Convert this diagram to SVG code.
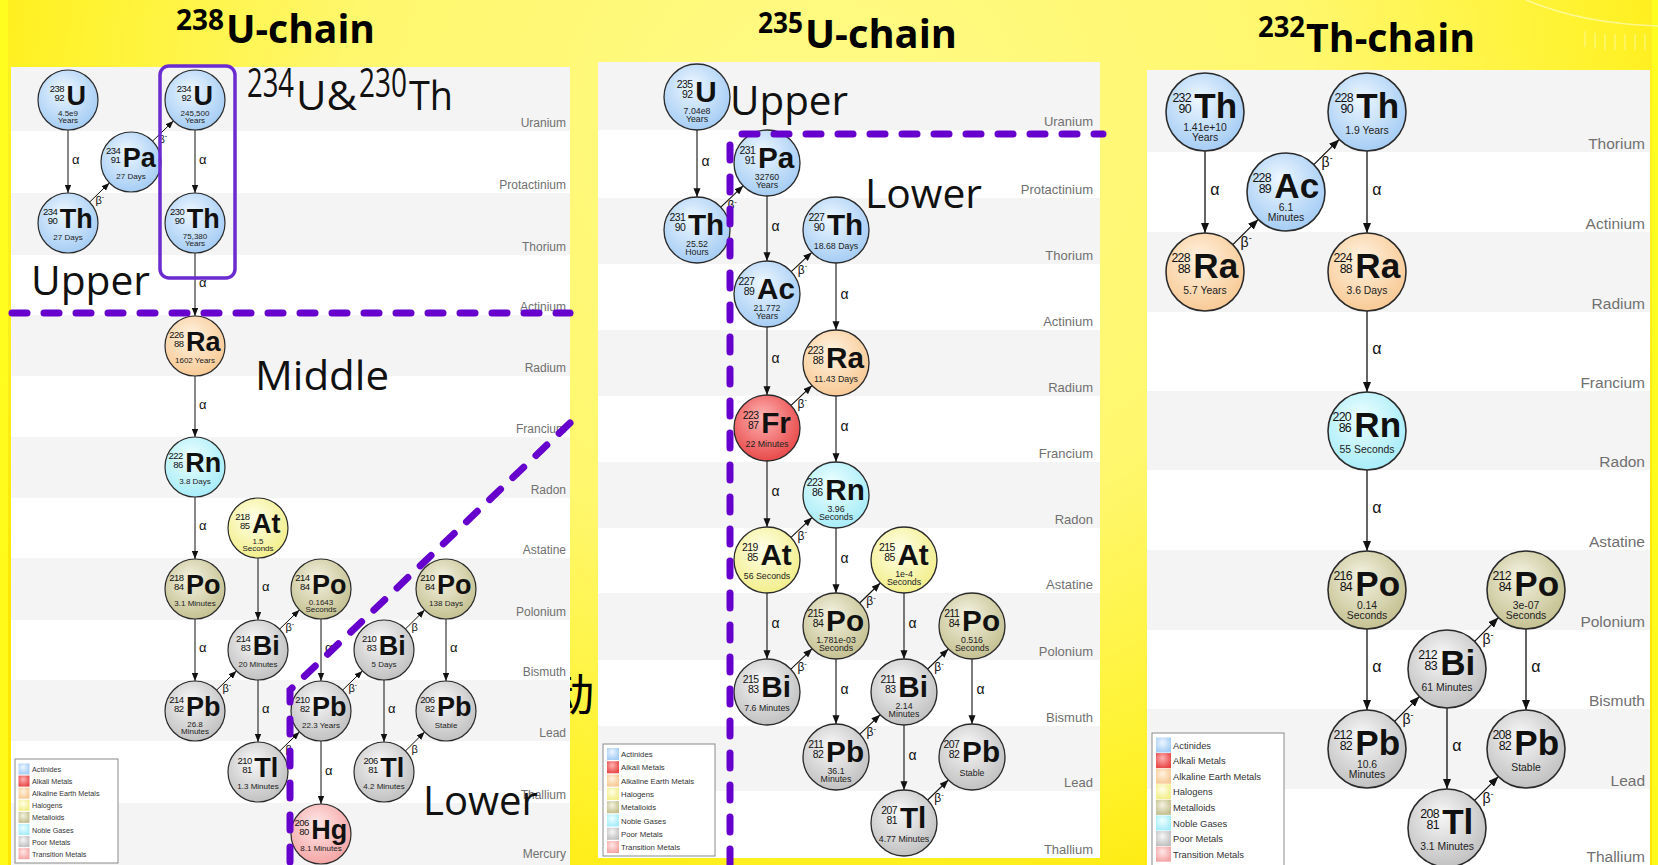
<svg xmlns="http://www.w3.org/2000/svg" width="1658" height="865" viewBox="0 0 1658 865">
<defs>
  <radialGradient id="bgGrad" gradientUnits="userSpaceOnUse" cx="829" cy="120" r="980" gradientTransform="translate(829 120) scale(1 0.9) translate(-829 -120)">
    <stop offset="0" stop-color="#FFFA86"/>
    <stop offset="0.5" stop-color="#FFF76C"/>
    <stop offset="0.8" stop-color="#FFF22A"/>
    <stop offset="1" stop-color="#FFE600"/>
  </radialGradient>
  <radialGradient id="gAct" cx="45%" cy="40%" r="62%" fx="42%" fy="32%"><stop offset="0" stop-color="#EEF7FF"/><stop offset="1" stop-color="#A4CCF4"/></radialGradient>
  <radialGradient id="gAlk" cx="45%" cy="40%" r="62%" fx="42%" fy="32%"><stop offset="0" stop-color="#FFB4B4"/><stop offset="1" stop-color="#E84848"/></radialGradient>
  <radialGradient id="gAE" cx="45%" cy="40%" r="62%" fx="42%" fy="32%"><stop offset="0" stop-color="#FFF3E2"/><stop offset="1" stop-color="#F8C994"/></radialGradient>
  <radialGradient id="gHal" cx="45%" cy="40%" r="62%" fx="42%" fy="32%"><stop offset="0" stop-color="#FFFFEA"/><stop offset="1" stop-color="#F2EE8A"/></radialGradient>
  <radialGradient id="gMet" cx="45%" cy="40%" r="62%" fx="42%" fy="32%"><stop offset="0" stop-color="#F4F3E2"/><stop offset="1" stop-color="#C4C090"/></radialGradient>
  <radialGradient id="gNob" cx="45%" cy="40%" r="62%" fx="42%" fy="32%"><stop offset="0" stop-color="#EEFFFF"/><stop offset="1" stop-color="#A6ECF8"/></radialGradient>
  <radialGradient id="gPoor" cx="45%" cy="40%" r="62%" fx="42%" fy="32%"><stop offset="0" stop-color="#F8F8F8"/><stop offset="1" stop-color="#C0C0C0"/></radialGradient>
  <radialGradient id="gTra" cx="45%" cy="40%" r="62%" fx="42%" fy="32%"><stop offset="0" stop-color="#FFE8E8"/><stop offset="1" stop-color="#F4A4A4"/></radialGradient>
  <marker id="ah" viewBox="0 0 10 8" refX="10" refY="4" markerWidth="8" markerHeight="6.4" orient="auto">
    <path d="M0,0 L10,4 L0,8 z" fill="#111"/>
  </marker>
  <style>
    .panel { fill:#FFFFFF; }
    .band { fill:#F4F4F4; }
    .row { font-family:"Liberation Sans",Arial,sans-serif; fill:#707070; text-anchor:end; }
    .node circle { stroke:#2a2a2a; stroke-width:1.2; }
    .sym { font-family:"Liberation Sans",Arial,sans-serif; font-weight:bold; font-size:27px; fill:#111; }
    .num { font-family:"Liberation Sans",Arial,sans-serif; font-size:9.5px; letter-spacing:-0.5px; text-anchor:end; fill:#111; }
    .hl { font-family:"Liberation Sans",Arial,sans-serif; font-size:8px; text-anchor:middle; fill:#222; }
    .cn { stroke:#111; fill:none; marker-end:url(#ah); }
    .w1 { stroke-width:1; } .w2 { stroke-width:1.1; } .w3 { stroke-width:1.3; }
    .dk { font-family:"Liberation Sans","DejaVu Sans",sans-serif; fill:#111; }
    .k1 { font-size:13px; } .k2 { font-size:14px; } .k3 { font-size:16px; }
    .b1 { font-size:11px; } .b2 { font-size:12px; } .b3 { font-size:14px; }
    .dash { fill:none; stroke:#6600CC; stroke-width:7; stroke-linecap:round; stroke-dasharray:15 17; }
    .big { font-family:"Open Sans","Noto Sans",sans-serif; font-size:40px; fill:#111; }
    .title { font-family:"Open Sans","Noto Sans",sans-serif; font-weight:bold; fill:#000; }
    .lbox { fill:#FFFFFF; stroke:#8a8a8a; stroke-width:1; }
    .lt { font-family:"Liberation Sans",Arial,sans-serif; fill:#333; }
  </style>
</defs>

<!-- slide background -->
<rect width="1658" height="865" fill="url(#bgGrad)"/>
<rect x="0" y="0" width="8" height="865" fill="#FFFF20" opacity="0.8"/>
<rect x="1652" y="0" width="6" height="865" fill="#FFFF20" opacity="0.8"/>
<g id="watermark" fill="none" stroke="#FFFFE6" opacity="0.55">
  <path d="M1526,0 C1565,16 1605,24 1658,26" stroke-width="1.5"/>
  <path d="M1605,34 V50 M1615,34 V50 M1625,34 V50 M1635,34 V50 M1645,34 V50 M1595,33 V49 M1585,31 V47" stroke-width="1"/>
</g>

<!-- partly hidden slide character between the charts -->
<text x="550" y="711" font-family="'Noto Sans CJK SC',sans-serif" font-size="44" fill="#000">动</text>

<!-- titles -->
<g id="titles">
  <text class="title" x="176" y="30" font-size="28" textLength="48" lengthAdjust="spacingAndGlyphs">238</text>
  <text class="title" x="226" y="43" font-size="39" textLength="149" lengthAdjust="spacingAndGlyphs">U-chain</text>
  <text class="title" x="758" y="33" font-size="28" textLength="45" lengthAdjust="spacingAndGlyphs">235</text>
  <text class="title" x="805" y="48" font-size="39" textLength="152" lengthAdjust="spacingAndGlyphs">U-chain</text>
  <text class="title" x="1258" y="37" font-size="28" textLength="47" lengthAdjust="spacingAndGlyphs">232</text>
  <text class="title" x="1306" y="52" font-size="40" textLength="169" lengthAdjust="spacingAndGlyphs">Th-chain</text>
</g>

<!-- chart panels with element rows -->
<g id="panel-238">
  <rect class="panel" x="11" y="67" width="559" height="798"/>
  <rect class="band" x="11" y="67" width="559" height="64"/>
  <rect class="band" x="11" y="193" width="559" height="62"/>
  <rect class="band" x="11" y="315" width="559" height="61"/>
  <rect class="band" x="11" y="437" width="559" height="61"/>
  <rect class="band" x="11" y="558" width="559" height="62"/>
  <rect class="band" x="11" y="680" width="559" height="61"/>
  <rect class="band" x="11" y="803" width="559" height="62"/>
  <g class="row" font-size="12">
    <text x="566" y="127">Uranium</text>
    <text x="566" y="189">Protactinium</text>
    <text x="566" y="251">Thorium</text>
    <text x="566" y="311">Actinium</text>
    <text x="566" y="372">Radium</text>
    <text x="566" y="433">Francium</text>
    <text x="566" y="494">Radon</text>
    <text x="566" y="554">Astatine</text>
    <text x="566" y="616">Polonium</text>
    <text x="566" y="676">Bismuth</text>
    <text x="566" y="737">Lead</text>
    <text x="566" y="799">Thallium</text>
    <text x="566" y="858">Mercury</text>
  </g>
</g>
<g id="panel-235">
  <rect class="panel" x="598" y="62" width="502" height="796"/>
  <rect class="band" x="598" y="62" width="502" height="68"/>
  <rect class="band" x="598" y="198" width="502" height="66"/>
  <rect class="band" x="598" y="330" width="502" height="66"/>
  <rect class="band" x="598" y="462" width="502" height="66"/>
  <rect class="band" x="598" y="593" width="502" height="67"/>
  <rect class="band" x="598" y="726" width="502" height="65"/>
  <g class="row" font-size="13">
    <text x="1093" y="126">Uranium</text>
    <text x="1093" y="194">Protactinium</text>
    <text x="1093" y="260">Thorium</text>
    <text x="1093" y="326">Actinium</text>
    <text x="1093" y="392">Radium</text>
    <text x="1093" y="458">Francium</text>
    <text x="1093" y="524">Radon</text>
    <text x="1093" y="589">Astatine</text>
    <text x="1093" y="656">Polonium</text>
    <text x="1093" y="722">Bismuth</text>
    <text x="1093" y="787">Lead</text>
    <text x="1093" y="854">Thallium</text>
  </g>
</g>
<g id="panel-232">
  <rect class="panel" x="1147" y="70" width="503" height="795"/>
  <rect class="band" x="1147" y="70" width="503" height="82"/>
  <rect class="band" x="1147" y="232" width="503" height="80"/>
  <rect class="band" x="1147" y="391" width="503" height="79"/>
  <rect class="band" x="1147" y="550" width="503" height="80"/>
  <rect class="band" x="1147" y="709" width="503" height="80"/>
  <g class="row" font-size="15.5">
    <text x="1645" y="149">Thorium</text>
    <text x="1645" y="229">Actinium</text>
    <text x="1645" y="309">Radium</text>
    <text x="1645" y="388">Francium</text>
    <text x="1645" y="467">Radon</text>
    <text x="1645" y="547">Astatine</text>
    <text x="1645" y="627">Polonium</text>
    <text x="1645" y="706">Bismuth</text>
    <text x="1645" y="786">Lead</text>
    <text x="1645" y="862">Thallium</text>
  </g>
</g>

<!-- legends -->
<g id="legend-238">
  <rect class="lbox" x="15" y="759" width="103" height="104"/>
  <g>
    <rect x="18.5" y="763.5" width="11" height="11" fill="url(#gAct)"/>
    <rect x="18.5" y="775.6" width="11" height="11" fill="url(#gAlk)"/>
    <rect x="18.5" y="787.7" width="11" height="11" fill="url(#gAE)"/>
    <rect x="18.5" y="799.8" width="11" height="11" fill="url(#gHal)"/>
    <rect x="18.5" y="811.9" width="11" height="11" fill="url(#gMet)"/>
    <rect x="18.5" y="824" width="11" height="11" fill="url(#gNob)"/>
    <rect x="18.5" y="836.1" width="11" height="11" fill="url(#gPoor)"/>
    <rect x="18.5" y="848.2" width="11" height="11" fill="url(#gTra)"/>
  </g>
  <g class="lt" font-size="7.2">
    <text x="32" y="772">Actinides</text>
    <text x="32" y="784.1">Alkali Metals</text>
    <text x="32" y="796.2">Alkaline Earth Metals</text>
    <text x="32" y="808.3">Halogens</text>
    <text x="32" y="820.4">Metalloids</text>
    <text x="32" y="832.5">Noble Gases</text>
    <text x="32" y="844.6">Poor Metals</text>
    <text x="32" y="856.7">Transition Metals</text>
  </g>
</g>
<g id="legend-235">
  <rect class="lbox" x="603" y="744" width="112" height="112"/>
  <g>
    <rect x="607" y="748" width="12" height="12" fill="url(#gAct)"/>
    <rect x="607" y="761.3" width="12" height="12" fill="url(#gAlk)"/>
    <rect x="607" y="774.6" width="12" height="12" fill="url(#gAE)"/>
    <rect x="607" y="787.9" width="12" height="12" fill="url(#gHal)"/>
    <rect x="607" y="801.2" width="12" height="12" fill="url(#gMet)"/>
    <rect x="607" y="814.5" width="12" height="12" fill="url(#gNob)"/>
    <rect x="607" y="827.8" width="12" height="12" fill="url(#gPoor)"/>
    <rect x="607" y="841.1" width="12" height="12" fill="url(#gTra)"/>
  </g>
  <g class="lt" font-size="7.8">
    <text x="621" y="757">Actinides</text>
    <text x="621" y="770.3">Alkali Metals</text>
    <text x="621" y="783.6">Alkaline Earth Metals</text>
    <text x="621" y="796.9">Halogens</text>
    <text x="621" y="810.2">Metalloids</text>
    <text x="621" y="823.5">Noble Gases</text>
    <text x="621" y="836.8">Poor Metals</text>
    <text x="621" y="850.1">Transition Metals</text>
  </g>
</g>
<g id="legend-232">
  <rect class="lbox" x="1152" y="733" width="132" height="140"/>
  <g>
    <rect x="1156" y="737.5" width="15" height="15" fill="url(#gAct)"/>
    <rect x="1156" y="753.1" width="15" height="15" fill="url(#gAlk)"/>
    <rect x="1156" y="768.7" width="15" height="15" fill="url(#gAE)"/>
    <rect x="1156" y="784.3" width="15" height="15" fill="url(#gHal)"/>
    <rect x="1156" y="799.9" width="15" height="15" fill="url(#gMet)"/>
    <rect x="1156" y="815.5" width="15" height="15" fill="url(#gNob)"/>
    <rect x="1156" y="831.1" width="15" height="15" fill="url(#gPoor)"/>
    <rect x="1156" y="846.7" width="15" height="15" fill="url(#gTra)"/>
  </g>
  <g class="lt" font-size="9.4">
    <text x="1173" y="748.5">Actinides</text>
    <text x="1173" y="764.1">Alkali Metals</text>
    <text x="1173" y="779.7">Alkaline Earth Metals</text>
    <text x="1173" y="795.3">Halogens</text>
    <text x="1173" y="810.9">Metalloids</text>
    <text x="1173" y="826.5">Noble Gases</text>
    <text x="1173" y="842.1">Poor Metals</text>
    <text x="1173" y="857.7">Transition Metals</text>
  </g>
</g>

<!-- decay arrows and their labels -->
<g id="connectors">
  <g class="cn w1">
    <line x1="68" y1="130" x2="68" y2="193"/>
    <line x1="195" y1="130" x2="195" y2="193"/>
    <line x1="195" y1="253" x2="195" y2="316"/>
    <line x1="195" y1="376" x2="195" y2="437"/>
    <line x1="195" y1="497" x2="195" y2="559"/>
    <line x1="258" y1="558" x2="258" y2="620"/>
    <line x1="195" y1="619" x2="195" y2="681"/>
    <line x1="321" y1="619" x2="321" y2="681"/>
    <line x1="446" y1="619" x2="446" y2="681"/>
    <line x1="258" y1="680" x2="258" y2="742"/>
    <line x1="384" y1="680" x2="384" y2="742"/>
    <line x1="321" y1="741" x2="321" y2="804"/>
    <line x1="89.6" y1="202.1" x2="109.4" y2="182.9"/>
    <line x1="152.6" y1="141.1" x2="173.4" y2="120.9"/>
    <line x1="216.6" y1="690.1" x2="236.4" y2="670.9"/>
    <line x1="279.6" y1="629.1" x2="299.4" y2="609.9"/>
    <line x1="342.6" y1="690.1" x2="362.4" y2="670.9"/>
    <line x1="405.4" y1="629" x2="424.6" y2="610"/>
    <line x1="279.6" y1="751.1" x2="299.4" y2="731.9"/>
    <line x1="405.4" y1="751" x2="424.6" y2="732"/>
  </g>
  <g class="dk k1">
    <text x="72" y="163.5">α</text>
    <text x="199" y="163.5">α</text>
    <text x="199" y="286.5">α</text>
    <text x="199" y="408.5">α</text>
    <text x="199" y="530">α</text>
    <text x="262" y="591">α</text>
    <text x="199" y="652">α</text>
    <text x="325" y="652">α</text>
    <text x="450" y="652">α</text>
    <text x="262" y="713">α</text>
    <text x="388" y="713">α</text>
    <text x="325" y="774.5">α</text>
  </g>
  <g class="dk b1">
    <text x="95.5" y="204">β<tspan font-size="7" dy="-5">-</tspan></text>
    <text x="158.5" y="143">β<tspan font-size="7" dy="-5">-</tspan></text>
    <text x="222.5" y="692">β<tspan font-size="7" dy="-5">-</tspan></text>
    <text x="285.5" y="631">β<tspan font-size="7" dy="-5">-</tspan></text>
    <text x="348.5" y="692">β<tspan font-size="7" dy="-5">-</tspan></text>
    <text x="411.4" y="631">β</text>
    <text x="285.5" y="753">β</text>
    <text x="411.4" y="753">β</text>
  </g>

  <g class="cn w2">
    <line x1="697" y1="130" x2="697" y2="197"/>
    <line x1="767" y1="196" x2="767" y2="261"/>
    <line x1="836" y1="263" x2="836" y2="330"/>
    <line x1="767" y1="327" x2="767" y2="395"/>
    <line x1="836" y1="396" x2="836" y2="462"/>
    <line x1="767" y1="461" x2="767" y2="527"/>
    <line x1="836" y1="528" x2="836" y2="593"/>
    <line x1="767" y1="593" x2="767" y2="659"/>
    <line x1="904" y1="593" x2="904" y2="659"/>
    <line x1="836" y1="659" x2="836" y2="724"/>
    <line x1="972" y1="659" x2="972" y2="724"/>
    <line x1="904" y1="725" x2="904" y2="790"/>
    <line x1="720.8" y1="207.2" x2="743.2" y2="185.8"/>
    <line x1="791.2" y1="271.6" x2="811.8" y2="252.4"/>
    <line x1="791" y1="405.4" x2="812" y2="385.6"/>
    <line x1="791" y1="537.4" x2="812" y2="517.6"/>
    <line x1="790.9" y1="669.2" x2="812.1" y2="648.8"/>
    <line x1="859.7" y1="603" x2="880.3" y2="583"/>
    <line x1="859.9" y1="734.2" x2="880.1" y2="714.8"/>
    <line x1="927.7" y1="669" x2="948.3" y2="649"/>
    <line x1="927.7" y1="800" x2="948.3" y2="780"/>
  </g>
  <g class="dk k2">
    <text x="701.4" y="165.7">α</text>
    <text x="771.4" y="230.7">α</text>
    <text x="840.4" y="298.7">α</text>
    <text x="771.4" y="363.2">α</text>
    <text x="840.4" y="431.2">α</text>
    <text x="771.4" y="496.2">α</text>
    <text x="840.4" y="562.7">α</text>
    <text x="771.4" y="628.2">α</text>
    <text x="908.4" y="628.2">α</text>
    <text x="840.4" y="693.7">α</text>
    <text x="976.4" y="693.7">α</text>
    <text x="908.4" y="759.7">α</text>
  </g>
  <g class="dk b2">
    <text x="727.4" y="209.4">β<tspan font-size="7.5" dy="-5.5">-</tspan></text>
    <text x="797.8" y="273.8">β<tspan font-size="7.5" dy="-5.5">-</tspan></text>
    <text x="797.6" y="407.6">β<tspan font-size="7.5" dy="-5.5">-</tspan></text>
    <text x="797.6" y="539.6">β<tspan font-size="7.5" dy="-5.5">-</tspan></text>
    <text x="797.4" y="671.4">β<tspan font-size="7.5" dy="-5.5">-</tspan></text>
    <text x="866.3" y="605.2">β<tspan font-size="7.5" dy="-5.5">-</tspan></text>
    <text x="866.5" y="736.4">β<tspan font-size="7.5" dy="-5.5">-</tspan></text>
    <text x="934.3" y="671.2">β<tspan font-size="7.5" dy="-5.5">-</tspan></text>
    <text x="934.3" y="802.2">β<tspan font-size="7.5" dy="-5.5">-</tspan></text>
  </g>

  <g class="cn w3">
    <line x1="1205" y1="151" x2="1205" y2="233"/>
    <line x1="1367" y1="151" x2="1367" y2="233"/>
    <line x1="1367" y1="311" x2="1367" y2="392"/>
    <line x1="1367" y1="470" x2="1367" y2="551"/>
    <line x1="1367" y1="629" x2="1367" y2="710"/>
    <line x1="1526" y1="629" x2="1526" y2="710"/>
    <line x1="1447" y1="708" x2="1447" y2="789"/>
    <line x1="1232.8" y1="244.6" x2="1258.2" y2="219.4"/>
    <line x1="1313.8" y1="164.6" x2="1339.2" y2="139.4"/>
    <line x1="1394.6" y1="721.4" x2="1419.4" y2="696.6"/>
    <line x1="1474.6" y1="641.4" x2="1498.4" y2="617.6"/>
    <line x1="1474.6" y1="800.4" x2="1498.4" y2="776.6"/>
  </g>
  <g class="dk k3">
    <text x="1210.2" y="194.6">α</text>
    <text x="1372.2" y="194.6">α</text>
    <text x="1372.2" y="354.1">α</text>
    <text x="1372.2" y="513.1">α</text>
    <text x="1372.2" y="672.1">α</text>
    <text x="1531.2" y="672.1">α</text>
    <text x="1452.2" y="751.1">α</text>
  </g>
  <g class="dk b3">
    <text x="1240.6" y="247.2">β<tspan font-size="9" dy="-6.5">-</tspan></text>
    <text x="1321.6" y="167.2">β<tspan font-size="9" dy="-6.5">-</tspan></text>
    <text x="1402.4" y="724">β<tspan font-size="9" dy="-6.5">-</tspan></text>
    <text x="1482.4" y="644">β<tspan font-size="9" dy="-6.5">-</tspan></text>
    <text x="1482.4" y="803">β<tspan font-size="9" dy="-6.5">-</tspan></text>
  </g>
</g>

<!-- 238U chain nuclides -->
<g id="n-u238" class="node" transform="translate(68,100)"><circle r="30" fill="url(#gAct)"/><text class="num" x="-4" y="-8">238</text><text class="num" x="-4" y="1">92</text><text class="sym" x="-1.5" y="4.5">U</text><text class="hl" y="15.5">4.5e9</text><text class="hl" y="23">Years</text></g>
<g id="n-pa234" class="node" transform="translate(131,162)"><circle r="30" fill="url(#gAct)"/><text class="num" x="-10.75" y="-8">234</text><text class="num" x="-10.75" y="1">91</text><text class="sym" x="-8.25" y="4.5">Pa</text><text class="hl" y="17">27 Days</text></g>
<g id="n-th234" class="node" transform="translate(68,223)"><circle r="30" fill="url(#gAct)"/><text class="num" x="-10.75" y="-8">234</text><text class="num" x="-10.75" y="1">90</text><text class="sym" x="-8.25" y="4.5">Th</text><text class="hl" y="17">27 Days</text></g>
<g id="n-u234" class="node" transform="translate(195,100)"><circle r="30" fill="url(#gAct)"/><text class="num" x="-4" y="-8">234</text><text class="num" x="-4" y="1">92</text><text class="sym" x="-1.5" y="4.5">U</text><text class="hl" y="15.5">245,500</text><text class="hl" y="23">Years</text></g>
<g id="n-th230" class="node" transform="translate(195,223)"><circle r="30" fill="url(#gAct)"/><text class="num" x="-10.75" y="-8">230</text><text class="num" x="-10.75" y="1">90</text><text class="sym" x="-8.25" y="4.5">Th</text><text class="hl" y="15.5">75,380</text><text class="hl" y="23">Years</text></g>
<g id="n-ra226" class="node" transform="translate(195,346)"><circle r="30" fill="url(#gAE)"/><text class="num" x="-11.5" y="-8">226</text><text class="num" x="-11.5" y="1">88</text><text class="sym" x="-9" y="4.5">Ra</text><text class="hl" y="17">1602 Years</text></g>
<g id="n-rn222" class="node" transform="translate(195,467)"><circle r="30" fill="url(#gNob)"/><text class="num" x="-12.25" y="-8">222</text><text class="num" x="-12.25" y="1">86</text><text class="sym" x="-9.75" y="4.5">Rn</text><text class="hl" y="17">3.8 Days</text></g>
<g id="n-at218" class="node" transform="translate(258,528)"><circle r="30" fill="url(#gHal)"/><text class="num" x="-8.5" y="-8">218</text><text class="num" x="-8.5" y="1">85</text><text class="sym" x="-6" y="4.5">At</text><text class="hl" y="15.5">1.5</text><text class="hl" y="23">Seconds</text></g>
<g id="n-po218" class="node" transform="translate(195,589)"><circle r="30" fill="url(#gMet)"/><text class="num" x="-11.5" y="-8">218</text><text class="num" x="-11.5" y="1">84</text><text class="sym" x="-9" y="4.5">Po</text><text class="hl" y="17">3.1 Minutes</text></g>
<g id="n-po214" class="node" transform="translate(321,589)"><circle r="30" fill="url(#gMet)"/><text class="num" x="-11.5" y="-8">214</text><text class="num" x="-11.5" y="1">84</text><text class="sym" x="-9" y="4.5">Po</text><text class="hl" y="15.5">0.1643</text><text class="hl" y="23">Seconds</text></g>
<g id="n-po210" class="node" transform="translate(446,589)"><circle r="30" fill="url(#gMet)"/><text class="num" x="-11.5" y="-8">210</text><text class="num" x="-11.5" y="1">84</text><text class="sym" x="-9" y="4.5">Po</text><text class="hl" y="17">138 Days</text></g>
<g id="n-bi214" class="node" transform="translate(258,650)"><circle r="30" fill="url(#gPoor)"/><text class="num" x="-7.75" y="-8">214</text><text class="num" x="-7.75" y="1">83</text><text class="sym" x="-5.25" y="4.5">Bi</text><text class="hl" y="17">20 Minutes</text></g>
<g id="n-bi210" class="node" transform="translate(384,650)"><circle r="30" fill="url(#gPoor)"/><text class="num" x="-7.75" y="-8">210</text><text class="num" x="-7.75" y="1">83</text><text class="sym" x="-5.25" y="4.5">Bi</text><text class="hl" y="17">5 Days</text></g>
<g id="n-pb214" class="node" transform="translate(195,711)"><circle r="30" fill="url(#gPoor)"/><text class="num" x="-11.5" y="-8">214</text><text class="num" x="-11.5" y="1">82</text><text class="sym" x="-9" y="4.5">Pb</text><text class="hl" y="15.5">26.8</text><text class="hl" y="23">Minutes</text></g>
<g id="n-pb210" class="node" transform="translate(321,711)"><circle r="30" fill="url(#gPoor)"/><text class="num" x="-11.5" y="-8">210</text><text class="num" x="-11.5" y="1">82</text><text class="sym" x="-9" y="4.5">Pb</text><text class="hl" y="17">22.3 Years</text></g>
<g id="n-pb206" class="node" transform="translate(446,711)"><circle r="30" fill="url(#gPoor)"/><text class="num" x="-11.5" y="-8">206</text><text class="num" x="-11.5" y="1">82</text><text class="sym" x="-9" y="4.5">Pb</text><text class="hl" y="17">Stable</text></g>
<g id="n-tl210" class="node" transform="translate(258,772)"><circle r="30" fill="url(#gPoor)"/><text class="num" x="-6.25" y="-8">210</text><text class="num" x="-6.25" y="1">81</text><text class="sym" x="-3.75" y="4.5">Tl</text><text class="hl" y="17">1.3 Minutes</text></g>
<g id="n-tl206" class="node" transform="translate(384,772)"><circle r="30" fill="url(#gPoor)"/><text class="num" x="-6.25" y="-8">206</text><text class="num" x="-6.25" y="1">81</text><text class="sym" x="-3.75" y="4.5">Tl</text><text class="hl" y="17">4.2 Minutes</text></g>
<g id="n-hg206" class="node" transform="translate(321,834)"><circle r="30" fill="url(#gTra)"/><text class="num" x="-12.25" y="-8">206</text><text class="num" x="-12.25" y="1">80</text><text class="sym" x="-9.75" y="4.5">Hg</text><text class="hl" y="17">8.1 Minutes</text></g>

<!-- 235U chain nuclides -->
<g id="n-u235" class="node" transform="translate(697,97) scale(1.1)"><circle r="30" fill="url(#gAct)"/><text class="num" x="-4" y="-8">235</text><text class="num" x="-4" y="1">92</text><text class="sym" x="-1.5" y="4.5">U</text><text class="hl" y="15.5">7.04e8</text><text class="hl" y="23">Years</text></g>
<g id="n-th231" class="node" transform="translate(697,230) scale(1.1)"><circle r="30" fill="url(#gAct)"/><text class="num" x="-10.75" y="-8">231</text><text class="num" x="-10.75" y="1">90</text><text class="sym" x="-8.25" y="4.5">Th</text><text class="hl" y="15.5">25.52</text><text class="hl" y="23">Hours</text></g>
<g id="n-pa231" class="node" transform="translate(767,163) scale(1.1)"><circle r="30" fill="url(#gAct)"/><text class="num" x="-10.75" y="-8">231</text><text class="num" x="-10.75" y="1">91</text><text class="sym" x="-8.25" y="4.5">Pa</text><text class="hl" y="15.5">32760</text><text class="hl" y="23">Years</text></g>
<g id="n-th227" class="node" transform="translate(836,230) scale(1.1)"><circle r="30" fill="url(#gAct)"/><text class="num" x="-10.75" y="-8">227</text><text class="num" x="-10.75" y="1">90</text><text class="sym" x="-8.25" y="4.5">Th</text><text class="hl" y="17">18.68 Days</text></g>
<g id="n-ac227" class="node" transform="translate(767,294) scale(1.1)"><circle r="30" fill="url(#gAct)"/><text class="num" x="-11.5" y="-8">227</text><text class="num" x="-11.5" y="1">89</text><text class="sym" x="-9" y="4.5">Ac</text><text class="hl" y="15.5">21.772</text><text class="hl" y="23">Years</text></g>
<g id="n-ra223" class="node" transform="translate(836,363) scale(1.1)"><circle r="30" fill="url(#gAE)"/><text class="num" x="-11.5" y="-8">223</text><text class="num" x="-11.5" y="1">88</text><text class="sym" x="-9" y="4.5">Ra</text><text class="hl" y="17">11.43 Days</text></g>
<g id="n-fr223" class="node" transform="translate(767,428) scale(1.1)"><circle r="30" fill="url(#gAlk)"/><text class="num" x="-7.75" y="-8">223</text><text class="num" x="-7.75" y="1">87</text><text class="sym" x="-5.25" y="4.5">Fr</text><text class="hl" y="17">22 Minutes</text></g>
<g id="n-rn223" class="node" transform="translate(836,495) scale(1.1)"><circle r="30" fill="url(#gNob)"/><text class="num" x="-12.25" y="-8">223</text><text class="num" x="-12.25" y="1">86</text><text class="sym" x="-9.75" y="4.5">Rn</text><text class="hl" y="15.5">3.96</text><text class="hl" y="23">Seconds</text></g>
<g id="n-at219" class="node" transform="translate(767,560) scale(1.1)"><circle r="30" fill="url(#gHal)"/><text class="num" x="-8.5" y="-8">219</text><text class="num" x="-8.5" y="1">85</text><text class="sym" x="-6" y="4.5">At</text><text class="hl" y="17">56 Seconds</text></g>
<g id="n-at215" class="node" transform="translate(904,560) scale(1.1)"><circle r="30" fill="url(#gHal)"/><text class="num" x="-8.5" y="-8">215</text><text class="num" x="-8.5" y="1">85</text><text class="sym" x="-6" y="4.5">At</text><text class="hl" y="15.5">1e-4</text><text class="hl" y="23">Seconds</text></g>
<g id="n-po215" class="node" transform="translate(836,626) scale(1.1)"><circle r="30" fill="url(#gMet)"/><text class="num" x="-11.5" y="-8">215</text><text class="num" x="-11.5" y="1">84</text><text class="sym" x="-9" y="4.5">Po</text><text class="hl" y="15.5">1.781e-03</text><text class="hl" y="23">Seconds</text></g>
<g id="n-po211" class="node" transform="translate(972,626) scale(1.1)"><circle r="30" fill="url(#gMet)"/><text class="num" x="-11.5" y="-8">211</text><text class="num" x="-11.5" y="1">84</text><text class="sym" x="-9" y="4.5">Po</text><text class="hl" y="15.5">0.516</text><text class="hl" y="23">Seconds</text></g>
<g id="n-bi215" class="node" transform="translate(767,692) scale(1.1)"><circle r="30" fill="url(#gPoor)"/><text class="num" x="-7.75" y="-8">215</text><text class="num" x="-7.75" y="1">83</text><text class="sym" x="-5.25" y="4.5">Bi</text><text class="hl" y="17">7.6 Minutes</text></g>
<g id="n-bi211" class="node" transform="translate(904,692) scale(1.1)"><circle r="30" fill="url(#gPoor)"/><text class="num" x="-7.75" y="-8">211</text><text class="num" x="-7.75" y="1">83</text><text class="sym" x="-5.25" y="4.5">Bi</text><text class="hl" y="15.5">2.14</text><text class="hl" y="23">Minutes</text></g>
<g id="n-pb211" class="node" transform="translate(836,757) scale(1.1)"><circle r="30" fill="url(#gPoor)"/><text class="num" x="-11.5" y="-8">211</text><text class="num" x="-11.5" y="1">82</text><text class="sym" x="-9" y="4.5">Pb</text><text class="hl" y="15.5">36.1</text><text class="hl" y="23">Minutes</text></g>
<g id="n-pb207" class="node" transform="translate(972,757) scale(1.1)"><circle r="30" fill="url(#gPoor)"/><text class="num" x="-11.5" y="-8">207</text><text class="num" x="-11.5" y="1">82</text><text class="sym" x="-9" y="4.5">Pb</text><text class="hl" y="17">Stable</text></g>
<g id="n-tl207" class="node" transform="translate(904,823) scale(1.1)"><circle r="30" fill="url(#gPoor)"/><text class="num" x="-6.25" y="-8">207</text><text class="num" x="-6.25" y="1">81</text><text class="sym" x="-3.75" y="4.5">Tl</text><text class="hl" y="17">4.77 Minutes</text></g>

<!-- 232Th chain nuclides -->
<g id="n-th232" class="node" transform="translate(1205,112) scale(1.3)"><circle r="30" fill="url(#gAct)"/><text class="num" x="-10.75" y="-8">232</text><text class="num" x="-10.75" y="1">90</text><text class="sym" x="-8.25" y="4.5">Th</text><text class="hl" y="14.5">1.41e+10</text><text class="hl" y="22">Years</text></g>
<g id="n-ac228" class="node" transform="translate(1286,192) scale(1.3)"><circle r="30" fill="url(#gAct)"/><text class="num" x="-11.5" y="-8">228</text><text class="num" x="-11.5" y="1">89</text><text class="sym" x="-9" y="4.5">Ac</text><text class="hl" y="14.5">6.1</text><text class="hl" y="22">Minutes</text></g>
<g id="n-th228" class="node" transform="translate(1367,112) scale(1.3)"><circle r="30" fill="url(#gAct)"/><text class="num" x="-10.75" y="-8">228</text><text class="num" x="-10.75" y="1">90</text><text class="sym" x="-8.25" y="4.5">Th</text><text class="hl" y="17">1.9 Years</text></g>
<g id="n-ra228" class="node" transform="translate(1205,272) scale(1.3)"><circle r="30" fill="url(#gAE)"/><text class="num" x="-11.5" y="-8">228</text><text class="num" x="-11.5" y="1">88</text><text class="sym" x="-9" y="4.5">Ra</text><text class="hl" y="17">5.7 Years</text></g>
<g id="n-ra224" class="node" transform="translate(1367,272) scale(1.3)"><circle r="30" fill="url(#gAE)"/><text class="num" x="-11.5" y="-8">224</text><text class="num" x="-11.5" y="1">88</text><text class="sym" x="-9" y="4.5">Ra</text><text class="hl" y="17">3.6 Days</text></g>
<g id="n-rn220" class="node" transform="translate(1367,431) scale(1.3)"><circle r="30" fill="url(#gNob)"/><text class="num" x="-12.25" y="-8">220</text><text class="num" x="-12.25" y="1">86</text><text class="sym" x="-9.75" y="4.5">Rn</text><text class="hl" y="17">55 Seconds</text></g>
<g id="n-po216" class="node" transform="translate(1367,590) scale(1.3)"><circle r="30" fill="url(#gMet)"/><text class="num" x="-11.5" y="-8">216</text><text class="num" x="-11.5" y="1">84</text><text class="sym" x="-9" y="4.5">Po</text><text class="hl" y="14.5">0.14</text><text class="hl" y="22">Seconds</text></g>
<g id="n-po212" class="node" transform="translate(1526,590) scale(1.3)"><circle r="30" fill="url(#gMet)"/><text class="num" x="-11.5" y="-8">212</text><text class="num" x="-11.5" y="1">84</text><text class="sym" x="-9" y="4.5">Po</text><text class="hl" y="14.5">3e-07</text><text class="hl" y="22">Seconds</text></g>
<g id="n-bi212" class="node" transform="translate(1447,669) scale(1.3)"><circle r="30" fill="url(#gPoor)"/><text class="num" x="-7.75" y="-8">212</text><text class="num" x="-7.75" y="1">83</text><text class="sym" x="-5.25" y="4.5">Bi</text><text class="hl" y="17">61 Minutes</text></g>
<g id="n-pb212" class="node" transform="translate(1367,749) scale(1.3)"><circle r="30" fill="url(#gPoor)"/><text class="num" x="-11.5" y="-8">212</text><text class="num" x="-11.5" y="1">82</text><text class="sym" x="-9" y="4.5">Pb</text><text class="hl" y="14.5">10.6</text><text class="hl" y="22">Minutes</text></g>
<g id="n-pb208" class="node" transform="translate(1526,749) scale(1.3)"><circle r="30" fill="url(#gPoor)"/><text class="num" x="-11.5" y="-8">208</text><text class="num" x="-11.5" y="1">82</text><text class="sym" x="-9" y="4.5">Pb</text><text class="hl" y="17">Stable</text></g>
<g id="n-tl208" class="node" transform="translate(1447,828) scale(1.3)"><circle r="30" fill="url(#gPoor)"/><text class="num" x="-6.25" y="-8">208</text><text class="num" x="-6.25" y="1">81</text><text class="sym" x="-3.75" y="4.5">Tl</text><text class="hl" y="17">3.1 Minutes</text></g>

<!-- section marks drawn over the charts -->
<g id="sections">
  <rect x="160" y="66" width="75" height="212" rx="9" fill="none" stroke="#6B2BD0" stroke-width="3.5"/>
  <line class="dash" x1="12" y1="313" x2="570" y2="313"/>
  <polyline class="dash" points="570,423 290,690 290,870"/>
  <line class="dash" x1="742" y1="134" x2="1103" y2="134"/>
  <line class="dash" x1="730" y1="145" x2="730" y2="870"/>
</g>

<g id="section-labels">
  <text class="big" x="247" y="97" font-size="26" textLength="47" lengthAdjust="spacingAndGlyphs">234</text>
  <text class="big" x="296" y="110" font-size="38" textLength="61" lengthAdjust="spacingAndGlyphs">U&amp;</text>
  <text class="big" x="359" y="97" font-size="26" textLength="48" lengthAdjust="spacingAndGlyphs">230</text>
  <text class="big" x="409" y="110" font-size="38" textLength="44" lengthAdjust="spacingAndGlyphs">Th</text>
  <text class="big" x="31" y="295" textLength="119" lengthAdjust="spacingAndGlyphs">Upper</text>
  <text class="big" x="255" y="390" textLength="134" lengthAdjust="spacingAndGlyphs">Middle</text>
  <text class="big" x="423" y="815" textLength="115" lengthAdjust="spacingAndGlyphs">Lower</text>
  <text class="big" x="730" y="115" textLength="118" lengthAdjust="spacingAndGlyphs">Upper</text>
  <text class="big" x="865" y="208" textLength="117" lengthAdjust="spacingAndGlyphs">Lower</text>
</g>
</svg>
